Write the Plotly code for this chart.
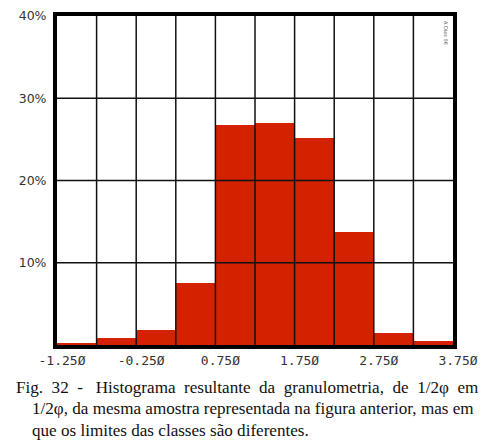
import plotly.graph_objects as go

# Data
bin_edges = [-1.25, -0.75, -0.25, 0.25, 0.75, 1.25, 1.75, 2.25, 2.75, 3.25, 3.75]
percentages = [0.2, 0.85, 1.8, 7.5, 26.7, 27.0, 25.2, 13.7, 1.4, 0.45]
x_tick_vals = [-1.25, -0.25, 0.75, 1.75, 2.75, 3.75]
x_tick_text = ["-1.25Ø", "-0.25Ø", "0.75Ø", "1.75Ø", "2.75Ø", "3.75Ø"]
y_tick_vals = [10, 20, 30, 40]
y_tick_text = ["10%", "20%", "30%", "40%"]
NB = "\u00a0"
caption_lines = [
    f"Fig.{NB} 32{NB} -{NB}{NB} Histograma{NB} resultante{NB} da{NB} granulometria,{NB} de{NB} 1/2φ{NB} em",
    "1/2φ, da mesma amostra representada na figura anterior, mas em",
    "que os limites das classes são diferentes.",
]

centers = [(a + b) / 2 for a, b in zip(bin_edges[:-1], bin_edges[1:])]
widths = [b - a for a, b in zip(bin_edges[:-1], bin_edges[1:])]

# page has an 8px body margin; work in page pixel coordinates
OFF = 8
W, H = 491 - OFF, 443 - OFF
plot_left, plot_top, plot_right, plot_bottom = 57, 16, 453, 345
ml, mt = plot_left - OFF, plot_top - OFF
mr, mb = W - (plot_right - OFF), H - (plot_bottom - OFF)
pw, ph = W - ml - mr, H - mt - mb

def px(x):
    return (x - OFF - ml) / pw

def py(y):
    return (H - mb - (y - OFF)) / ph

fig = go.Figure()
fig.add_trace(go.Bar(
    x=centers, y=percentages, width=widths,
    marker=dict(color="#d42100", line=dict(width=0)),
    hoverinfo="skip",
))

shapes = []
for e in bin_edges[1:-1]:
    shapes.append(dict(type="line", xref="x", yref="paper", x0=e, x1=e, y0=0, y1=1,
                       line=dict(color="#111", width=1.5), layer="above"))
for v in y_tick_vals[:-1]:
    shapes.append(dict(type="line", xref="paper", yref="y", x0=0, x1=1, y0=v, y1=v,
                       line=dict(color="#111", width=1.5), layer="above"))

cap_font = dict(family="Liberation Serif", size=17.1, color="#111")
annotations = [
    dict(text=caption_lines[0], xref="paper", yref="paper", x=px(14), y=py(387),
         xanchor="left", yanchor="middle", showarrow=False, font=cap_font),
    dict(text=caption_lines[1], xref="paper", yref="paper", x=px(30), y=py(408),
         xanchor="left", yanchor="middle", showarrow=False, font=cap_font),
    dict(text=caption_lines[2], xref="paper", yref="paper", x=px(30), y=py(430),
         xanchor="left", yanchor="middle", showarrow=False, font=cap_font),
    dict(text="A Dias 06", xref="paper", yref="paper", x=px(446), y=py(33),
         xanchor="center", yanchor="middle", showarrow=False, textangle=90,
         font=dict(family="DejaVu Sans", size=5, color="#555")),
]

fig.update_layout(
    width=W, height=H,
    margin=dict(l=ml, r=mr, t=mt, b=mb, autoexpand=False),
    paper_bgcolor="white", plot_bgcolor="white",
    bargap=0, showlegend=False,
    shapes=shapes, annotations=annotations,
    xaxis=dict(range=[bin_edges[0], bin_edges[-1]], tickvals=x_tick_vals, ticktext=x_tick_text,
               showgrid=False, zeroline=False, showline=True, linecolor="black", linewidth=4,
               mirror=True, ticks="", ticklabelshift=5, automargin=False,
               tickfont=dict(family="DejaVu Sans Mono", size=13, color="#333")),
    yaxis=dict(range=[0, 40], tickvals=y_tick_vals, ticktext=y_tick_text,
               showgrid=False, zeroline=False, showline=True, linecolor="black", linewidth=4,
               mirror=True, ticks="outside", ticklen=4, tickcolor="white", automargin=False,
               tickfont=dict(family="DejaVu Sans", size=12.5, color="#333")),
)

fig.write_html("out.html")
